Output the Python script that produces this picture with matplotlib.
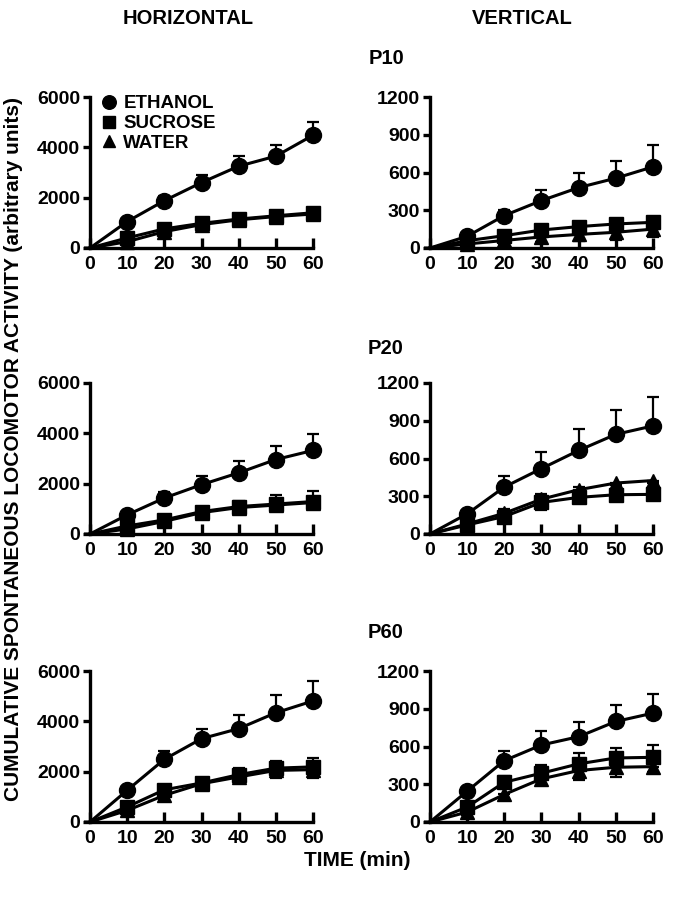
import matplotlib
matplotlib.use("Agg")
import matplotlib.pyplot as plt
from matplotlib.lines import Line2D
import numpy as np

plt.rcParams['font.family'] = ['Liberation Sans', 'DejaVu Sans']
plt.rcParams['font.weight'] = 'bold'

time = [0, 10, 20, 30, 40, 50, 60]
groups = ["ETHANOL", "SUCROSE", "WATER"]
ages = ["P10", "P20", "P60"]

# HORIZONTAL activity
h_eth = {"P10": [0, 1050, 1880, 2600, 3250, 3650, 4480],
         "P20": [0, 760, 1430, 1960, 2430, 2960, 3320],
         "P60": [0, 1260, 2490, 3310, 3710, 4340, 4810]}
h_eth_err = {"P10": [0, 120, 180, 300, 400, 450, 520],
             "P20": [0, 120, 220, 330, 460, 530, 640],
             "P60": [0, 100, 330, 400, 530, 690, 780]}
h_suc = {"P10": [0, 400, 760, 980, 1150, 1280, 1400],
         "P20": [0, 320, 560, 890, 1090, 1190, 1290],
         "P60": [0, 600, 1280, 1550, 1880, 2140, 2190]}
h_suc_err = {"P10": [0, 80, 120, 150, 150, 160, 180],
             "P20": [0, 80, 130, 150, 220, 370, 400],
             "P60": [0, 100, 170, 200, 250, 300, 370]}
h_wat = {"P10": [0, 250, 650, 930, 1120, 1250, 1350],
         "P20": [0, 200, 500, 850, 1050, 1150, 1250],
         "P60": [0, 460, 1060, 1520, 1790, 2050, 2080]}
h_wat_err = {"P10": [0, 80, 110, 130, 140, 150, 170],
             "P20": [0, 80, 110, 140, 170, 200, 240],
             "P60": [0, 90, 160, 190, 240, 300, 330]}

# VERTICAL activity
v_eth = {"P10": [0, 93, 258, 377, 480, 555, 645],
         "P20": [0, 160, 373, 520, 664, 792, 859],
         "P60": [0, 245, 488, 612, 678, 799, 865]}
v_eth_err = {"P10": [0, 20, 45, 80, 120, 135, 170],
             "P20": [0, 25, 90, 130, 170, 195, 230],
             "P60": [0, 30, 74, 108, 119, 132, 156]}
v_suc = {"P10": [0, 58, 98, 143, 170, 191, 204],
         "P20": [0, 72, 139, 251, 291, 312, 315],
         "P60": [0, 119, 316, 388, 462, 509, 514]}
v_suc_err = {"P10": [0, 15, 20, 25, 30, 30, 35],
             "P20": [0, 20, 60, 70, 80, 80, 90],
             "P60": [0, 25, 50, 68, 84, 79, 98]}
v_wat = {"P10": [0, 32, 60, 88, 108, 125, 150],
         "P20": [0, 80, 165, 277, 352, 405, 425],
         "P60": [0, 79, 219, 343, 409, 435, 440]}
v_wat_err = {"P10": [0, 15, 25, 40, 50, 60, 60],
             "P20": [0, 20, 60, 88, 101, 107, 114],
             "P60": [0, 20, 42, 50, 74, 79, 40]}

fig = plt.figure(figsize=(6.73, 8.99), dpi=100)

W = 223 / 673
H = 151 / 899
lefts = [90 / 673, 430 / 673]
bottoms = [1 - 248 / 899, 1 - 534 / 899, 1 - 822 / 899]

lw = 2.2
tick_fs = 14
markers = {"ETHANOL": ('o', 11.5), "SUCROSE": ('s', 10.5), "WATER": ('^', 10.5)}

def draw(ax, eth, etherr, suc, sucerr, wat, waterr, ymax, yticks):
    kw = dict(color='black', lw=lw, capsize=4.5, elinewidth=1.6,
              capthick=1.6, clip_on=False, markevery=slice(1, None))
    zeros = [0] * len(time)
    ax.errorbar(time, wat, yerr=[waterr, zeros], marker=markers["WATER"][0],
                ms=markers["WATER"][1], **kw)
    ax.errorbar(time, suc, yerr=[zeros, sucerr], marker=markers["SUCROSE"][0],
                ms=markers["SUCROSE"][1], **kw)
    ax.errorbar(time, eth, yerr=[zeros, etherr], marker=markers["ETHANOL"][0],
                ms=markers["ETHANOL"][1], **kw)
    ax.set_xlim(0, 60)
    ax.set_ylim(0, ymax)
    ax.set_xticks(time)
    ax.set_yticks(yticks)
    for s in ['top', 'right']:
        ax.spines[s].set_visible(False)
    for s in ['left', 'bottom']:
        ax.spines[s].set_linewidth(2.4)
    ax.tick_params(axis='x', direction='in', length=7, width=2.4, labelsize=tick_fs, pad=6)
    ax.tick_params(axis='y', direction='out', length=5, width=2.4, labelsize=tick_fs, pad=2)
    for lab in ax.get_xticklabels() + ax.get_yticklabels():
        lab.set_fontweight('bold')

axes = {}
for r, age in enumerate(ages):
    axl = fig.add_axes([lefts[0], bottoms[r], W, H])
    draw(axl, h_eth[age], h_eth_err[age], h_suc[age], h_suc_err[age],
         h_wat[age], h_wat_err[age], 6000, [0, 2000, 4000, 6000])
    axr = fig.add_axes([lefts[1], bottoms[r], W, H])
    draw(axr, v_eth[age], v_eth_err[age], v_suc[age], v_suc_err[age],
         v_wat[age], v_wat_err[age], 1200, [0, 300, 600, 900, 1200])
    axes[age] = (axl, axr)

# legend in top-left panel
axl = axes["P10"][0]
handles = [Line2D([], [], color='black', lw=0, marker=markers[g][0],
                  ms=markers[g][1] * 0.85) for g in groups]
leg = axl.legend(handles, groups, loc='upper left',
                 bbox_to_anchor=(-0.01, 1.125), frameon=False, handlelength=0.5,
                 handletextpad=0.5, labelspacing=0.15,
                 prop={'weight': 'bold', 'size': 13.5})

fig.text(188 / 673, 1 - 19 / 899, "HORIZONTAL", ha='center', va='center', fontsize=14.5, fontweight='bold')
fig.text(522 / 673, 1 - 19 / 899, "VERTICAL", ha='center', va='center', fontsize=14.5, fontweight='bold')
for age, y in zip(ages, [58, 348, 632]):
    fig.text(386 / 673, 1 - y / 899, age, ha='center', va='center', fontsize=14.5, fontweight='bold')
fig.text(357 / 673, 1 - 860 / 899, "TIME (min)", ha='center', va='center', fontsize=15, fontweight='bold')
fig.text(14 / 673, 1 - 449 / 899, "CUMULATIVE SPONTANEOUS LOCOMOTOR ACTIVITY (arbitrary units)",
         ha='center', va='center', rotation=90, fontsize=15, fontweight='bold')

fig.savefig("out.png", dpi=100)
